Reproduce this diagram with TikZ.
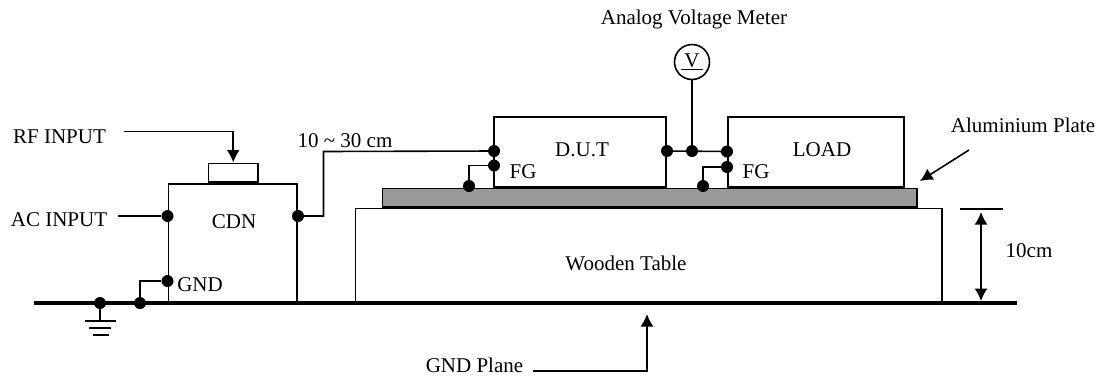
\documentclass[tikz,border=0pt]{standalone}
\usepackage{fontspec}
\setmainfont{Liberation Serif}
\usetikzlibrary{arrows.meta,calc}
\tikzset{
  x=1pt,y=-1pt,
  every node/.style={font=\fontsize{21}{24}\selectfont,inner sep=0pt,text=black},
  wire/.style={line width=1.6pt,black},
  pin/.style={circle,fill=black,minimum size=12pt,inner sep=0pt},
  arrowed/.style={line width=1.6pt,-{Latex[length=12.5pt,width=13pt]}},
  plane/.style={line width=4.4pt,black},
}
\newcommand{\bx}[5]{\node[rectangle,draw=black,line width=1.6pt,fill=#5,minimum width=#3-1.6pt,minimum height=#4-1.6pt,inner sep=0pt,anchor=center] (#1) at #2 {};}
\begin{document}
\begin{tikzpicture}
\useasboundingbox (0,0) rectangle (1105,376);
\bx{table}{(648.75,255.5)}{588.5pt}{96pt}{white}
\bx{plate}{(649.5,197.5)}{536pt}{20pt}{black!40}
\bx{dut}{(580,151.75)}{174pt}{71.5pt}{white}
\bx{load}{(816,151.75)}{178pt}{71.5pt}{white}
\bx{cdn}{(232.75,243)}{130.5pt}{120pt}{white}
\bx{rfbox}{(233.25,172.75)}{51.5pt}{20.5pt}{white}
\coordinate (pl) at (34,303);
\coordinate (pr) at (1017,303);
\draw[plane] (pl) -- (pr);
\draw[line width=2.4pt] (plate.south west) -- (plate.south east);
\node[pin] (gp1) at (100,303) {};
\node[pin] (gp2) at (140,303) {};
\node[pin] (cg) at (167.5,281) {};
\node[pin] (ac) at (167.5,216) {};
\node[pin] (co) at (298,216) {};
\node[pin] (di) at (494,151) {};
\node[pin] (df) at (494,165.5) {};
\node[pin] (dfp) at (469,186) {};
\node[pin] (dr) at (667,151) {};
\node[pin] (vj) at (692,151) {};
\node[pin] (li) at (727,151.5) {};
\node[pin] (lf) at (727,167) {};
\node[pin] (lfp) at (703,186) {};
\coordinate (e1) at (100,321);
\draw[wire] (gp1) -- (e1);
\coordinate (e1a) at (85,321); \coordinate (e1b) at (116,321);
\coordinate (e2a) at (89,328); \coordinate (e2b) at (111,328);
\coordinate (e3a) at (93,335); \coordinate (e3b) at (109,335);
\draw[wire] (e1a) -- (e1b);
\draw[wire] (e2a) -- (e2b);
\draw[wire] (e3a) -- (e3b);
\draw[wire] (gp2) |- (cg);
\coordinate (rfs) at (124,131.5);
\draw[arrowed] (rfs) -| (rfbox.north);
\coordinate (acs) at (118,216);
\draw[wire] (acs) -- (ac);
\coordinate (k1) at (323.5,216); \coordinate (k2) at (323.5,151.5);
\draw[wire] (co) -- (k1) -- (k2) -- (di);
\draw[wire] (dfp) |- (df);
\draw[wire] (lfp) |- (lf);
\draw[wire] (dr) -- (li);
\node[circle,draw=black,line width=1.6pt,fill=white,minimum size=35pt] (vm) at (692,62) {\underline{\,V\,}};
\draw[wire] (vm) -- (vj);
\coordinate (ap1) at (969,150); \coordinate (ap2) at (920,181);
\draw[arrowed] (ap1) -- (ap2);
\coordinate (d1) at (960,209); \coordinate (d2) at (1003,209);
\draw[line width=1.1pt] (d1) -- (d2);
\coordinate (d3) at (981,212); \coordinate (d4) at (981,301);
\draw[line width=1.6pt,{Latex[length=12.5pt,width=13pt]}-{Latex[length=12.5pt,width=13pt]}] (d3) -- (d4);
\coordinate (g1) at (533,371); \coordinate (g2) at (647,314);
\draw[arrowed] (g1) -| (g2);
\node (t1) at (59.5,137) {RF INPUT};
\node (t2) at (59,220) {AC INPUT};
\node (t3) at (234,222) {CDN};
\node (t4) at (200,285) {GND};
\node (t5) at (345,141) {10 \textasciitilde\ 30 cm};
\node (t6) at (582,150) {D.U.T};
\node (t7) at (523,172) {FG};
\node (t8) at (756,172) {FG};
\node (t9) at (822,150) {LOAD};
\node (t10) at (626,263) {Wooden Table};
\node (t11) at (474.5,365.5) {GND Plane};
\node (t12) at (694,19) {Analog Voltage Meter};
\node (t13) at (1023,125) {Aluminium Plate};
\node (t14) at (1029,251) {10cm};
\end{tikzpicture}
\end{document}
